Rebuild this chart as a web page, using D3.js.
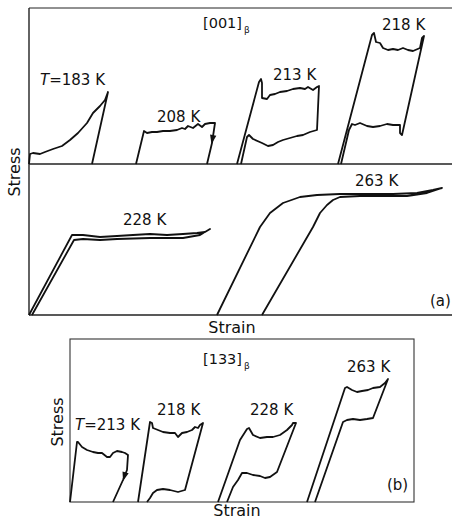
<!DOCTYPE html>
<html>
<head>
<meta charset="utf-8">
<script src="https://cdn.jsdelivr.net/npm/d3@7"></script>
<style>
  body { margin: 0; background: #fff; }
</style>
</head>
<body>
<div id="container"></div>
<script>
/**
 * DATA  -  [strain, stress] in arbitrary units
 * */
// (a) [001] upper strip
const a183 = [[0,0],[0.1,1.0],[0.4,1.1],[1.1,1.0],[1.6,1.2],[2.4,1.5],[3.3,1.8],[4.1,2.4],[4.9,3.1],[5.8,4.1],[6.4,5.1],[7.1,5.8],[7.6,6.4],[7.9,7.2],[6.3,0]];
const a208 = [[10.7,0],[11.5,3.3],[11.8,3.1],[12.3,3.2],[12.8,3.2],[13.4,3.3],[14.1,3.3],[14.8,3.4],[15.3,3.6],[15.6,3.5],[15.9,3.8],[16.4,3.6],[16.9,4.0],[17.3,3.7],[17.6,4.0],[18.1,4.1],[18.6,4.1],[18.3,2.1],[17.8,0]];
const a213 = [[20.8,0],[23.0,8.2],[23.2,8.5],[23.3,8.1],[23.3,6.6],[23.8,6.5],[24.1,6.9],[24.6,7.0],[25.1,7.2],[25.8,7.3],[26.4,7.5],[27.1,7.6],[27.6,7.5],[27.9,7.7],[28.4,7.4],[28.8,7.7],[29.0,7.8],
              [28.8,3.4],[28.1,3.2],[27.4,2.9],[26.8,2.8],[26.1,2.6],[25.4,2.4],[24.9,2.2],[24.4,1.9],[23.9,1.8],[23.3,2.1],[22.4,2.5],[22.0,2.9],[21.8,2.7],[21.2,0]];
const a218 = [[30.9,0],[34.3,12.9],[34.5,13.1],[34.7,12.2],[35.1,12.1],[35.4,11.6],[35.9,11.4],[36.4,11.5],[36.9,11.4],[37.4,11.6],[37.9,11.4],[38.4,11.3],[39.1,11.6],[39.3,12.6],[39.5,12.8],
              [37.3,2.9],[37.1,3.1],[37.1,3.9],[36.4,3.9],[35.8,4.0],[35.1,3.8],[34.4,3.7],[33.8,3.8],[33.1,4.1],[32.6,3.9],[32.3,4.0],[32.0,3.4],[31.2,0]];
// (a) [001] lower strip
const a228 = [[0,0],[4.3,8.0],[5.4,8.0],[7.1,7.8],[8.8,7.9],[10.4,8.0],[12.1,8.1],[13.8,8.0],[15.4,8.1],[16.8,8.2],[17.6,8.3],[18.1,8.6],
              [17.1,8.0],[15.4,7.7],[12.1,7.7],[8.8,7.6],[7.1,7.5],[5.4,7.6],[4.5,7.5],[0.3,0]];
const a263 = [[18.8,0],[23.1,8.8],[24.1,10.2],[25.4,11.2],[27.1,11.8],[28.8,12.0],[31.1,12.1],[33.8,12.1],[36.4,12.1],[38.8,12.2],[40.4,12.5],[41.3,12.7],
              [39.8,12.2],[37.8,11.9],[35.8,11.9],[33.1,11.9],[31.1,11.8],[30.4,11.5],[29.8,11.0],[29.1,10.2],[28.4,8.8],[23.3,0]];
// (b) [133]
const b213 = [[0,0],[0.7,6.0],[0.8,6.0],[1.2,5.5],[1.7,5.2],[2.3,5.0],[2.8,4.9],[3.2,4.9],[3.7,4.5],[4.0,4.5],[4.3,4.9],[4.7,5.1],[5.2,5.0],[5.5,4.9],[5.8,4.7],[5.7,3.2],[5.3,2.2],[4.3,0]];
const b218 = [[6.8,0],[8.0,8.0],[8.2,7.9],[8.3,7.4],[8.8,7.2],[9.3,7.0],[10.0,6.9],[10.5,6.9],[10.8,6.5],[11.2,6.9],[11.7,7.0],[12.2,7.2],[12.5,7.5],[12.8,7.4],[13.0,7.7],[13.3,7.9],
              [11.5,1.2],[10.8,1.0],[10.0,1.2],[9.3,1.3],[8.7,1.2],[8.3,0.9],[8.0,0.4],[7.7,0]];
const b228 = [[14.8,0],[17.0,6.2],[17.7,7.3],[17.9,7.4],[18.3,6.7],[19.0,6.4],[19.7,6.5],[20.3,6.5],[21.0,6.7],[21.7,7.2],[22.2,7.7],[22.3,7.9],[22.6,7.9],
              [20.7,3.0],[20.0,2.5],[19.5,2.4],[19.0,2.6],[18.3,2.7],[17.7,2.9],[17.2,2.9],[16.8,2.2],[16.3,1.5],[15.7,0]];
const b263 = [[23.7,0],[27.5,11.4],[27.7,11.5],[28.2,11.2],[28.7,11.0],[29.2,11.1],[29.8,11.2],[30.3,11.4],[31.0,11.5],[31.5,11.9],[31.8,12.3],
              [30.3,8.4],[29.7,8.3],[29.0,8.2],[28.3,8.3],[27.7,8.2],[27.3,8.0],[24.5,0]];

// temperature labels
const labelsATop = ["T=183 K", "208 K", "213 K", "218 K"];
const labelsALow = ["228 K", "263 K"];
const labelsB    = ["T=213 K", "218 K", "228 K", "263 K"];

// arrows: [from, tip] on unloading branch
const arrowA = [[18.5, 3.3], [18.25, 2.0]];
const arrowB = [[5.6, 3.1], [5.3, 2.1]];

/**
 * LAYOUT
 * */
const width = 452, height = 521;

const panels = [
  { x: [29, 451], y: [164, 7],   dom: [42.2, 15.7], series: [a183, a208, a213, a218], labels: labelsATop,
    labelAt: [[1.1, 7.9], [12.8, 4.2], [24.4, 8.4], [35.3, 13.4]], arrow: arrowA },
  { x: [29, 451], y: [315, 164], dom: [42.2, 15.1], series: [a228, a263], labels: labelsALow,
    labelAt: [[9.4, 9.0], [32.6, 12.9]] },
  { x: [70, 414], y: [502, 340], dom: [34.4, 16.2], series: [b213, b218, b228, b263], labels: labelsB,
    labelAt: [[0.5, 7.2], [8.7, 8.7], [18.0, 8.7], [27.7, 13.0]], arrow: arrowB }
];

const svg = d3.select("#container")
  .append("svg")
  .attr("width", width)
  .attr("height", height)
  .style("font-family", "'DejaVu Sans', sans-serif")

// frames - (a) is open on the right
const frameA = [[29, 8, 452, 8], [29, 8, 29, 315], [29, 164, 452, 164], [29, 315, 452, 315]];
svg.append("g")
  .selectAll("line")
  .data(frameA)
  .join("line")
  .attr("x1", d => d[0]).attr("y1", d => d[1])
  .attr("x2", d => d[2]).attr("y2", d => d[3])
  .attr("stroke", "#222")
  .attr("stroke-width", (d, i) => i == 0 ? 1 : 1.4)
svg.append("rect")
  .attr("x", 70).attr("y", 339).attr("width", 344).attr("height", 163)
  .attr("fill", "none").attr("stroke", "#333").attr("stroke-width", 1.1)

panels.forEach(p => {
  const x = d3.scaleLinear().domain([0, p.dom[0]]).range(p.x);
  const y = d3.scaleLinear().domain([0, p.dom[1]]).range(p.y);
  const line = d3.line().x(d => x(d[0])).y(d => y(d[1]));

  svg.append("g")
    .selectAll("path")
    .data(p.series)
    .join("path")
    .attr("d", line)
    .attr("fill", "none")
    .attr("stroke", "#111")
    .attr("stroke-width", 1.8)
    .attr("stroke-linejoin", "round")

  const lab = svg.append("g")
    .selectAll("text")
    .data(p.labels)
    .join("text")
    .attr("x", (d, i) => x(p.labelAt[i][0]))
    .attr("y", (d, i) => y(p.labelAt[i][1]))
    .style("font-size", "15px")
    .attr("fill", "#111")

  lab.each(function(d) {
    const t = d3.select(this);
    if (d.startsWith("T=")) {
      t.append("tspan").style("font-style", "italic").text("T");
      t.append("tspan").text(d.slice(1));
    } else {
      t.text(d);
    }
  })

  if (p.arrow) {
    const [a, b] = p.arrow;
    const x0 = x(a[0]), y0 = y(a[1]), x1 = x(b[0]), y1 = y(b[1]);
    const ang = Math.atan2(y1 - y0, x1 - x0) * 180 / Math.PI;
    svg.append("path")
      .attr("d", "M0,0 L-9,-3.2 L-9,3.2 Z")
      .attr("transform", `translate(${x1},${y1}) rotate(${ang})`)
      .attr("fill", "#111")
  }
})

// orientation titles
function orient(txt, sub, px, py) {
  const t = svg.append("text").attr("x", px).attr("y", py)
    .style("font-size", "14.5px").attr("fill", "#111");
  t.append("tspan").text(txt);
  t.append("tspan").attr("dy", 5).attr("dx", 2).style("font-size", "9px").text(sub);
}
orient("[001]", "β", 203, 28);
orient("[133]", "β", 203, 364);

// axis titles
svg.append("text").text("Stress")
  .attr("transform", "translate(20,172) rotate(-90)")
  .attr("text-anchor", "middle").style("font-size", "16px").attr("fill", "#111")
svg.append("text").text("Strain")
  .attr("x", 232).attr("y", 333)
  .attr("text-anchor", "middle").style("font-size", "16px").attr("fill", "#111")
svg.append("text").text("Stress")
  .attr("transform", "translate(63,422) rotate(-90)")
  .attr("text-anchor", "middle").style("font-size", "16px").attr("fill", "#111")
svg.append("text").text("Strain")
  .attr("x", 237).attr("y", 516)
  .attr("text-anchor", "middle").style("font-size", "16px").attr("fill", "#111")

// panel tags
svg.append("text").text("(a)").attr("x", 430).attr("y", 306)
  .style("font-size", "15px").attr("fill", "#111")
svg.append("text").text("(b)").attr("x", 387).attr("y", 490)
  .style("font-size", "15px").attr("fill", "#111")
</script>
</body>
</html>
